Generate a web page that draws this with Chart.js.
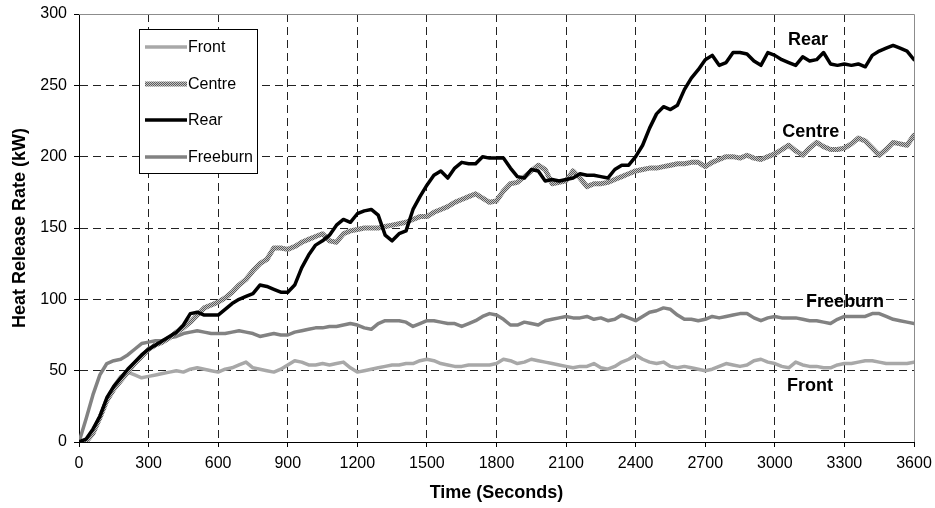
<!DOCTYPE html>
<html>
<head>
<meta charset="utf-8">
<script src="https://cdn.jsdelivr.net/npm/chart.js@4.4.0/dist/chart.umd.min.js"></script>
<style>
  html, body { margin: 0; padding: 0; background: #fff; }
  #wrap { width: 935px; height: 508px; }
</style>
</head>
<body>
<div id="wrap"><canvas id="hrrChart" width="935" height="508"></canvas></div>
<script>
// time axis (seconds)
const times = [
  0, 30, 60, 90, 120, 150, 180, 210, 240, 270,
  300, 330, 360, 390, 420, 450, 480, 510, 540, 570,
  600, 630, 660, 690, 720, 750, 780, 810, 840, 870,
  900, 930, 960, 990, 1020, 1050, 1080, 1110, 1140, 1170,
  1200, 1230, 1260, 1290, 1320, 1350, 1380, 1410, 1440, 1470,
  1500, 1530, 1560, 1590, 1620, 1650, 1680, 1710, 1740, 1770,
  1800, 1830, 1860, 1890, 1920, 1950, 1980, 2010, 2040, 2070,
  2100, 2130, 2160, 2190, 2220, 2250, 2280, 2310, 2340, 2370,
  2400, 2430, 2460, 2490, 2520, 2550, 2580, 2610, 2640, 2670,
  2700, 2730, 2760, 2790, 2820, 2850, 2880, 2910, 2940, 2970,
  3000, 3030, 3060, 3090, 3120, 3150, 3180, 3210, 3240, 3270,
  3300, 3330, 3360, 3390, 3420, 3450, 3480, 3510, 3540, 3570,
  3600
];

// heat release rate (kW)
const rear = [
  0, 2, 9, 18, 31, 39, 45, 51, 56, 61,
  65, 68, 71, 74, 77, 82, 90, 91, 89, 89,
  89, 93, 97, 100, 102, 104, 110, 109, 107, 105,
  105, 110, 122, 131, 138, 141, 145, 152, 156, 154,
  160, 162, 163, 159, 145, 141, 146, 148, 163, 172,
  180, 187, 190, 185, 192, 196, 195, 195, 200, 199,
  199, 199, 192, 186, 185, 191, 190, 183, 184, 183,
  184, 185, 188, 187, 187, 186, 185, 191, 194, 194,
  200, 208, 220, 230, 235, 233, 236, 247, 255, 261,
  268, 271, 264, 266, 273, 273, 272, 267, 264, 273,
  271, 268, 266, 264, 270, 267, 268, 273, 265, 264,
  265, 264, 265, 263, 271, 274, 276, 278, 276, 274,
  268
];

const centre = [
  0, 0, 6, 17, 29, 37, 43, 49, 55, 60,
  65, 68, 70, 73, 77, 80, 84, 89, 94, 96,
  98, 101, 105, 110, 114, 120, 125, 128, 136, 136,
  135, 137, 140, 142, 144, 146, 141, 140, 146, 148,
  149, 150, 150, 150, 151, 152, 153, 154, 156, 158,
  158, 161, 163, 165, 168, 170, 172, 174, 171, 168,
  169, 176, 181, 182, 186, 190, 194, 191, 181, 182,
  183, 190, 185, 179, 181, 181, 182, 184, 186, 188,
  190, 191, 192, 192, 193, 194, 195, 195, 196, 196,
  193, 196, 198, 200, 200, 199, 201, 199, 198, 200,
  202, 205, 208, 204, 201, 206, 210, 207, 205, 205,
  206, 209, 213, 211, 206, 201, 205, 210, 209, 208,
  215
];

const freeburn = [
  0, 16, 33, 47, 55, 57, 58, 61, 65, 69,
  70, 71, 71, 73, 74, 76, 77, 78, 77, 76,
  76, 76, 77, 78, 77, 76, 74, 75, 76, 75,
  75, 77, 78, 79, 80, 80, 81, 81, 82, 83,
  82, 80, 79, 83, 85, 85, 85, 84, 81, 83,
  85, 85, 84, 83, 83, 81, 83, 85, 88, 90,
  89, 86, 82, 82, 84, 83, 82, 85, 86, 87,
  88, 87, 87, 88, 86, 87, 85, 86, 89, 87,
  85, 88, 91, 92, 94, 93, 89, 86, 86, 85,
  86, 88, 87, 88, 89, 90, 90, 87, 85, 87,
  88, 87, 87, 87, 86, 85, 85, 84, 83, 86,
  88, 88, 88, 88, 90, 90, 88, 86, 85, 84,
  83
];

const front = [
  0, 1, 8, 18, 30, 39, 46, 49, 47, 45,
  46, 47, 48, 49, 50, 49, 51, 52, 51, 50,
  49, 51, 52, 54, 56, 52, 51, 50, 49, 51,
  54, 57, 56, 54, 54, 55, 54, 55, 56, 52,
  49, 50, 51, 52, 53, 54, 54, 55, 55, 57,
  58, 57, 55, 54, 53, 53, 54, 54, 54, 54,
  55, 58, 57, 55, 56, 58, 57, 56, 55, 54,
  53, 52, 53, 53, 55, 52, 51, 53, 56, 58,
  61, 58, 56, 55, 56, 53, 52, 53, 52, 51,
  50, 51, 53, 55, 54, 53, 54, 57, 58, 56,
  55, 53, 52, 56, 54, 53, 53, 52, 52, 54,
  55, 55, 56, 57, 57, 56, 55, 55, 55, 55,
  56
];

// labels written next to the curves (data units)
const curveTags = [
  { text: "Rear", t: 3143, v: 282 },
  { text: "Centre", t: 3155, v: 217 },
  { text: "Freeburn", t: 3303, v: 98 },
  { text: "Front", t: 3152, v: 39 }
];

const legendOrder = ["Front", "Centre", "Rear", "Freeburn"];

const FONT = "'Liberation Sans', Arial, sans-serif";

// speckled grey stroke for the Centre curve
function speckle() {
  const c = document.createElement("canvas");
  c.width = 2; c.height = 2;
  const g = c.getContext("2d");
  g.fillStyle = "#c4c4c4"; g.fillRect(0, 0, 2, 2);
  g.fillStyle = "#5c5c5c"; g.fillRect(0, 0, 1, 1); g.fillRect(1, 1, 1, 1);
  return g.createPattern(c, "repeat");
}

const pts = arr => arr.map((v, i) => ({ x: times[i], y: v }));

// grid lines: dashed inside, none on the edges
const gridColor = edgeVals => ctx =>
  (ctx.tick && edgeVals.includes(ctx.tick.value)) ? "rgba(0,0,0,0)" : "#222";

const decor = {
  id: "decor",
  beforeDatasetsDraw(chart) {
    const { ctx, chartArea: a } = chart;
    ctx.save();
    ctx.strokeStyle = "#8c8c8c";
    ctx.lineWidth = 1;
    ctx.beginPath();
    ctx.moveTo(a.left, a.top + 0.5);
    ctx.lineTo(a.right + 0.5, a.top + 0.5);
    ctx.lineTo(a.right + 0.5, a.bottom);
    ctx.stroke();
    ctx.restore();
  },
  afterDatasetsDraw(chart) {
    const { ctx, scales } = chart;
    ctx.save();
    // tags beside the curves
    ctx.fillStyle = "#000";
    ctx.font = "bold 18px " + FONT;
    ctx.textAlign = "center";
    ctx.textBaseline = "middle";
    curveTags.forEach(tag => {
      ctx.fillText(tag.text, scales.x.getPixelForValue(tag.t), scales.y.getPixelForValue(tag.v));
    });

    // legend box
    const bx = 139.5, by = 29.5, bw = 118, bh = 144;
    ctx.fillStyle = "#fff";
    ctx.fillRect(bx, by, bw, bh);
    ctx.strokeStyle = "#000";
    ctx.lineWidth = 1;
    ctx.strokeRect(bx, by, bw, bh);
    const rows = [47, 84, 120, 157];
    ctx.font = "16px " + FONT;
    ctx.textAlign = "left";
    legendOrder.forEach((name, i) => {
      const ds = chart.data.datasets.find(d => d.label === name);
      ctx.strokeStyle = ds.borderColor;
      ctx.lineWidth = ds.borderWidth;
      ctx.beginPath();
      ctx.moveTo(145, rows[i]);
      ctx.lineTo(187, rows[i]);
      ctx.stroke();
      ctx.fillStyle = "#000";
      ctx.fillText(name, 188, rows[i] + 1);
    });
    ctx.restore();
  }
};

const ctx = document.getElementById("hrrChart").getContext("2d");
new Chart(ctx, {
  type: "line",
  data: {
    datasets: [
      { label: "Rear", data: pts(rear), borderColor: "#000", borderWidth: 3.5 },
      { label: "Centre", data: pts(centre), borderColor: speckle(), borderWidth: 5 },
      { label: "Freeburn", data: pts(freeburn), borderColor: "#828282", borderWidth: 3.5 },
      { label: "Front", data: pts(front), borderColor: "#a8a8a8", borderWidth: 3.5 }
    ]
  },
  options: {
    responsive: false,
    animation: false,
    layout: { padding: { top: 14, right: 21, left: 0, bottom: 0 } },
    elements: {
      point: { radius: 0 },
      line: { tension: 0, borderJoinStyle: "round", borderCapStyle: "round" }
    },
    plugins: {
      legend: { display: false },
      tooltip: { enabled: false }
    },
    scales: {
      x: {
        type: "linear",
        min: 0,
        max: 3600,
        ticks: { stepSize: 300, color: "#000", font: { family: FONT, size: 16 }, padding: 7, maxRotation: 0, callback: v => String(v) },
        grid: { color: gridColor([0, 3600]), tickColor: "#000", tickLength: 5, lineWidth: 1 },
        border: { color: "#000", width: 1, dash: [8, 5] },
        title: {
          display: true,
          text: "Time (Seconds)",
          color: "#000",
          font: { family: FONT, size: 18, weight: "bold" },
          padding: { top: 0, bottom: 4 }
        },
        afterFit: s => { s.height = 66; s.paddingLeft = 0; s.paddingRight = 0; }
      },
      y: {
        min: 0,
        max: 300,
        ticks: { stepSize: 50, color: "#000", font: { family: FONT, size: 16 }, padding: 7, callback: v => String(v) },
        grid: { color: gridColor([0, 300]), tickColor: "#000", tickLength: 5, lineWidth: 1 },
        border: { color: "#000", width: 1, dash: [8, 5] },
        title: {
          display: true,
          text: "Heat Release Rate (kW)",
          color: "#000",
          font: { family: FONT, size: 18, weight: "bold" },
          padding: { top: 9, bottom: 0 }
        },
        afterFit: s => { s.width = 79; s.paddingTop = 0; s.paddingBottom = 0; }
      }
    }
  },
  plugins: [decor]
});
</script>
</body>
</html>
